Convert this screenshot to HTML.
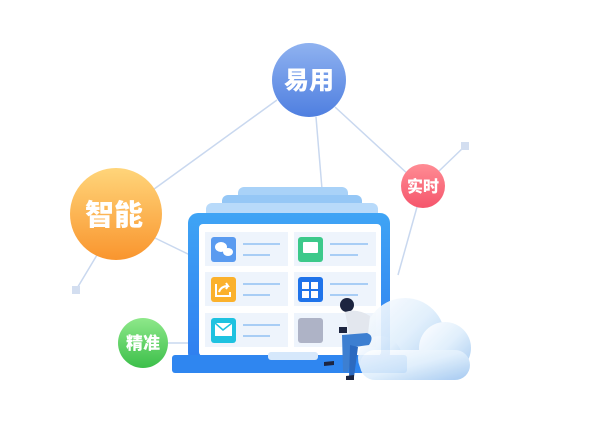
<!DOCTYPE html>
<html><head><meta charset="utf-8"><style>
body{margin:0;background:#fff;width:600px;height:432px;overflow:hidden}
</style></head><body>
<svg width="600" height="432" viewBox="0 0 600 432" xmlns="http://www.w3.org/2000/svg">
<defs>
<linearGradient id="gb" x1="0" y1="0" x2="0" y2="1"><stop offset="0" stop-color="#8fb2f0"/><stop offset="1" stop-color="#4f7fe0"/></linearGradient>
<linearGradient id="go" x1="0" y1="0" x2="0" y2="1"><stop offset="0" stop-color="#ffd57a"/><stop offset="1" stop-color="#f9952e"/></linearGradient>
<linearGradient id="gr" x1="0" y1="0" x2="0" y2="1"><stop offset="0" stop-color="#ff8c94"/><stop offset="1" stop-color="#f5556c"/></linearGradient>
<linearGradient id="gg" x1="0" y1="0" x2="0" y2="1"><stop offset="0" stop-color="#8ee88a"/><stop offset="1" stop-color="#3cbf4a"/></linearGradient>
<linearGradient id="gl" x1="0" y1="0" x2="0" y2="1"><stop offset="0" stop-color="#3fa4f5"/><stop offset="1" stop-color="#2f7ef0"/></linearGradient>
<linearGradient id="gc" x1="0" y1="0" x2="1" y2="1"><stop offset="0" stop-color="#ffffff"/><stop offset="0.5" stop-color="#deeefc"/><stop offset="1" stop-color="#9cc4f0"/></linearGradient>
</defs>
<g stroke="#c9d8ef" stroke-width="1.5" fill="none">
<line x1="277" y1="100" x2="150" y2="192"/>
<line x1="335" y1="107" x2="410" y2="176"/>
<line x1="316" y1="117" x2="324" y2="213"/>
<line x1="438" y1="172" x2="465" y2="146"/>
<line x1="417" y1="207" x2="398" y2="275"/>
<line x1="97" y1="255" x2="76" y2="290"/>
<line x1="155" y1="238" x2="190" y2="255"/>
<line x1="168" y1="343" x2="190" y2="343"/>
</g>
<rect x="461" y="142" width="8" height="8" fill="#d3def0"/>
<rect x="72" y="286" width="8" height="8" fill="#d3def0"/>
<rect x="238" y="187" width="110" height="30" rx="6" fill="#a9d2f8"/>
<rect x="222" y="195" width="140" height="25" rx="6" fill="#95c7f6"/>
<rect x="206" y="203" width="172" height="20" rx="6" fill="#b8dafa"/>
<rect x="188" y="213" width="202" height="150" rx="10" fill="url(#gl)"/>
<rect x="199" y="224" width="182" height="132" rx="4" fill="#fff"/>
<rect x="172" y="355" width="235" height="18" rx="3" fill="#2f86f0"/>
<rect x="268" y="352" width="50" height="8" rx="3" fill="#d6e8fb"/>
<g fill="#eef4fc">
<rect x="205" y="232" width="83" height="34"/><rect x="294" y="232" width="82" height="34"/>
<rect x="205" y="272" width="83" height="34"/><rect x="294" y="272" width="82" height="34"/>
<rect x="205" y="313" width="83" height="34"/><rect x="294" y="313" width="82" height="34"/>
</g>
<rect x="211" y="237" width="25" height="25" rx="3" fill="#5a9bf0"/>
<rect x="298" y="237" width="25" height="25" rx="3" fill="#3cc98a"/>
<rect x="211" y="277" width="25" height="25" rx="3" fill="#fbb12c"/>
<rect x="298" y="277" width="25" height="25" rx="3" fill="#1f73ea"/>
<rect x="211" y="318" width="25" height="25" rx="3" fill="#1ec2e0"/>
<rect x="298" y="318" width="25" height="25" rx="3" fill="#aeb3c6"/>
<g fill="#fff"><ellipse cx="221" cy="247" rx="6" ry="5"/><ellipse cx="228" cy="252" rx="5" ry="4"/>
<rect x="303" y="242" width="15" height="11" rx="1"/>
<rect x="302" y="282" width="7" height="7"/><rect x="311" y="282" width="7" height="7"/><rect x="302" y="291" width="7" height="7"/><rect x="311" y="291" width="7" height="7"/>
<rect x="215" y="323" width="17" height="13"/></g>
<path d="M215 323 L223 330 L232 323" stroke="#1ec2e0" stroke-width="1.5" fill="none"/>
<path d="M216 284 v12 h14 v-4 M219 292 q2 -6 9 -6 l-2 -3 M228 286 l-2 3" stroke="#fff" stroke-width="2" fill="none"/>
<g stroke="#a8cdf5" stroke-width="2">
<line x1="243" y1="244" x2="280" y2="244"/><line x1="243" y1="255" x2="270" y2="255"/>
<line x1="330" y1="244" x2="368" y2="244"/><line x1="330" y1="255" x2="358" y2="255"/>
<line x1="243" y1="284" x2="280" y2="284"/><line x1="243" y1="295" x2="270" y2="295"/>
<line x1="330" y1="284" x2="368" y2="284"/><line x1="330" y1="295" x2="358" y2="295"/>
<line x1="243" y1="325" x2="280" y2="325"/><line x1="243" y1="336" x2="270" y2="336"/>
</g>
<g fill="url(#gc)" opacity="0.9">
<circle cx="405" cy="338" r="40"/><circle cx="445" cy="348" r="26"/><circle cx="380" cy="358" r="22"/>
<rect x="360" y="350" width="110" height="30" rx="15"/>
</g>
<circle cx="347" cy="305" r="7" fill="#1d2540"/>
<path d="M345 312 q12 -4 25 4 l-2 18 -18 3 z" fill="#e3e7ee"/>
<path d="M342 335 l25 -2 q8 3 2 12 l-15 2 -6 25 -5 0 z" fill="#3d7fd1"/>
<path d="M350 345 l8 2 -4 30 -5 0z" fill="#2c6ac0"/>
<rect x="339" y="327" width="8" height="6" fill="#1d2540"/>
<path d="M324 362 l10 -1 0 4 -10 1z M346 376 l8 -1 0 5 -8 0z" fill="#1d2540"/>
<circle cx="309" cy="80" r="37" fill="url(#gb)"/>
<circle cx="116" cy="214" r="46" fill="url(#go)"/>
<circle cx="423" cy="186" r="22" fill="url(#gr)"/>
<circle cx="143" cy="343" r="25" fill="url(#gg)"/>
<g fill="#fff" font-family="'Noto Sans CJK SC',sans-serif" font-weight="900" text-anchor="middle">
<text x="309" y="89" font-size="25">易用</text>
<text x="114" y="225" font-size="29">智能</text>
<text x="423" y="192" font-size="16">实时</text>
<text x="143" y="349" font-size="17">精准</text>
</g>
</svg>
</body></html>
